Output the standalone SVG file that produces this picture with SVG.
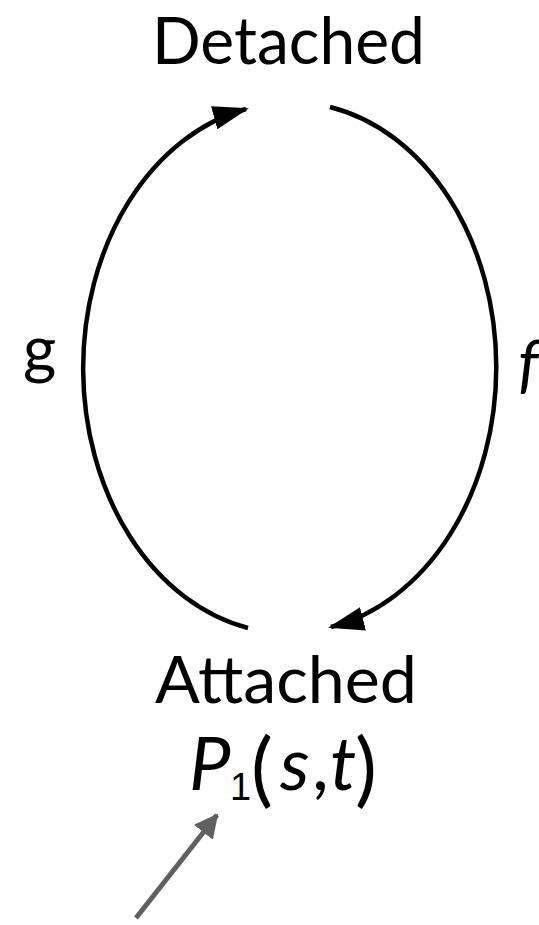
<svg xmlns="http://www.w3.org/2000/svg" width="539" height="925" viewBox="0 0 539 925">
<style>
.t{font-family:Lato,"Open Sans","Liberation Sans",sans-serif;fill:#000}
.big{font-size:66px}
.m{font-size:74px}
.i{font-style:italic}
.arc{fill:none;stroke:#000;stroke-width:4.5}
</style>
<defs>
<marker id="ah" viewBox="0 0 36 24" refX="33" refY="12" markerWidth="36" markerHeight="24" markerUnits="userSpaceOnUse" orient="auto">
<path d="M0,0 L36,12 L0,24 z" fill="#000"/>
</marker>
<marker id="ahg" viewBox="0 0 24 24" refX="22" refY="12" markerWidth="24" markerHeight="24" markerUnits="userSpaceOnUse" orient="auto">
<path d="M0,0 L24,12 L0,24 z" fill="#606060"/>
</marker>
</defs>
<g id="detached"><text class="t big" x="152" y="64" textLength="273" lengthAdjust="spacingAndGlyphs">Detached</text></g>
<g id="attached">
<text class="t big" x="155" y="703" textLength="262" lengthAdjust="spacingAndGlyphs">Attached</text>
<text class="t m i" x="189" y="790">P</text>
<text x="230" y="800" fill="#000" style="font-family:'Liberation Sans',sans-serif;font-size:38px">1</text>
<text class="t" x="251" y="797" style="font-size:82px">(</text>
<text class="t m i" x="280" y="790">s</text>
<text class="t m" x="312" y="790">,</text>
<text class="t m i" x="330" y="790">t</text>
<text class="t" x="355" y="797" style="font-size:82px">)</text>
</g>
<g id="labels">
<text class="t" x="23" y="372" style="font-size:64px">g</text>
<text class="t i" x="518" y="386" style="font-size:64px">f</text>
</g>
<g id="connectors">
<path class="arc" d="M248,628 A205.5,265 0 0 1 246,109" marker-end="url(#ah)"/>
<path class="arc" d="M330,107 A205.5,265 0 0 1 331,627" marker-end="url(#ah)"/>
<line x1="136" y1="918" x2="217" y2="815" stroke="#606060" stroke-width="5" marker-end="url(#ahg)"/>
</g>
</svg>
